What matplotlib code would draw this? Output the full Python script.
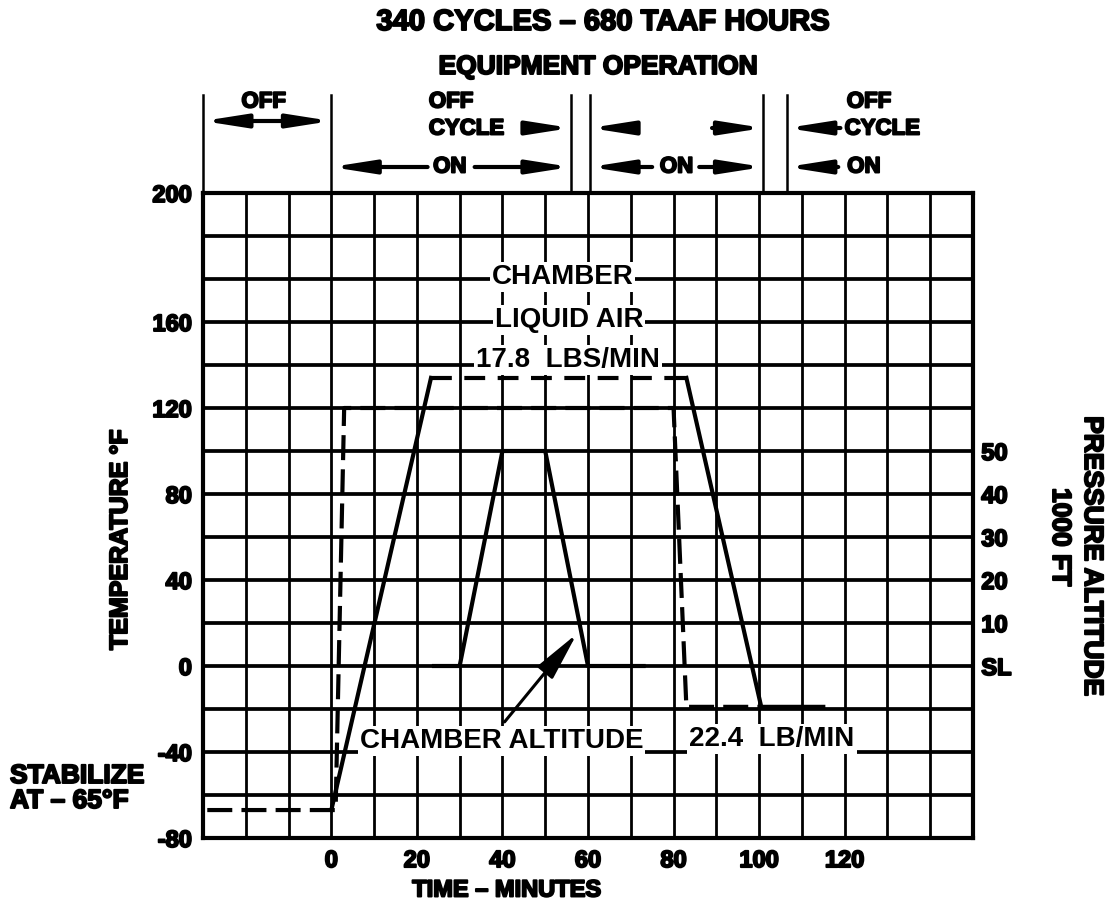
import matplotlib
matplotlib.use("Agg")
import matplotlib.pyplot as plt
from matplotlib import font_manager, patheffects

installed = {f.name for f in font_manager.fontManager.ttflist}
HEAVY_FONT = 'Liberation Sans' if 'Liberation Sans' in installed else 'DejaVu Sans'
PLAIN = HEAVY_FONT

# ---- data -------------------------------------------------------------
# chamber air temperature, deg F, against time in minutes
chamber_time = [-29, 1, 3, 80, 83, 100.5]
chamber_temp = [-67, -67, 120, 120, -19, -19]
# liquid air temperature, deg F
liquid_time = [0, 23.3, 83, 100.5, 115]
liquid_temp = [-67, 134, 134, -19, -19]
# chamber pressure altitude, 1000 ft
alt_time = [24, 30, 40, 50, 60, 73]
alt_kft = [0, 0, 50, 50, 0, 0]

time_ticks = [0, 20, 40, 60, 80, 100, 120]
temp_tick_pos = [-80, -40, 0, 40, 80, 120, 160, 220]
temp_tick_labels = ['-80', '-40', '0', '40', '80', '120', '160', '200']
alt_ticks = [0, 10, 20, 30, 40, 50]
alt_tick_labels = ['SL', '10', '20', '30', '40', '50']

time_grid = list(range(-30, 151, 10))
temp_grid = list(range(-80, 221, 20))

# equipment operation bar positions (minutes)
phase_marks = [-30, 0, 56, 60.5, 101, 106.5]

W, H = 1109, 916
fig = plt.figure(figsize=(W / 100, H / 100), dpi=100)
ax = fig.add_axes([203 / W, 1 - 838 / H, 770 / W, 645 / H])
ax.set_xlim(-30, 150)
ax.set_ylim(-80, 220)

heavy = [patheffects.withStroke(linewidth=1.4, foreground='black')]

# grid
for y in temp_grid:
    ax.axhline(y, color='black', lw=2.7, zorder=1)
for x in time_grid:
    ax.axvline(x, color='black', lw=2.0, zorder=1)
for s in ax.spines.values():
    s.set_linewidth(3.0)
    s.set_zorder(6)

ax.set_xticks(time_ticks)
ax.set_xticklabels([str(t) for t in time_ticks])
ax.set_yticks(temp_tick_pos)
ax.set_yticklabels(temp_tick_labels)
ax.tick_params(length=0, labelsize=17, pad=8)
for lab in ax.get_xticklabels() + ax.get_yticklabels():
    lab.set_fontfamily(HEAVY_FONT)
    lab.set_fontweight('bold')
    lab.set_path_effects(heavy)

# temperature traces
dash = (0, (6, 2.2))
ax.plot(chamber_time, chamber_temp, color='black', lw=3.0, ls=dash, zorder=5)
ax.plot(liquid_time[0:2], liquid_temp[0:2], color='black', lw=3.0, zorder=5)
ax.plot(liquid_time[1:3], liquid_temp[1:3], color='black', lw=3.0, ls=(0, (5, 3)), zorder=5)
ax.plot(liquid_time[2:], liquid_temp[2:], color='black', lw=3.0, zorder=5)

# altitude on the right-hand scale (10,000 ft per grid line)
ax2 = ax.twinx()
ax2.set_ylim(-40, 110)
ax2.set_yticks(alt_ticks)
ax2.set_yticklabels(alt_tick_labels)
ax2.tick_params(length=0, labelsize=17, pad=6)
for s in ax2.spines.values():
    s.set_visible(False)
for lab in ax2.get_yticklabels():
    lab.set_fontfamily(HEAVY_FONT)
    lab.set_fontweight('bold')
    lab.set_path_effects(heavy)
ax2.plot(alt_time, alt_kft, color='black', lw=3.0, zorder=5)

# in-plot labels
box = dict(facecolor='white', edgecolor='none', pad=1.5)
lab_kw = dict(fontfamily=PLAIN, fontweight='bold', fontsize=20, ha='center',
              va='center', bbox=box, zorder=4)
ax.text(54, 181, 'CHAMBER', **lab_kw)
ax.text(55.6, 161, 'LIQUID AIR', **lab_kw)
ax.text(55.3, 142.5, '17.8  LBS/MIN', **lab_kw)
ax.text(103, -34, '22.4  LB/MIN', **lab_kw)
ax.text(39.8, -35, 'CHAMBER ALTITUDE', **lab_kw)
ax.annotate('', xy=(57.4, 15), xytext=(40.5, -26),
            arrowprops=dict(arrowstyle='-|>,head_length=1.5,head_width=0.3',
                            color='black', lw=2.2, mutation_scale=20,
                            shrinkA=0, shrinkB=0), zorder=5)

# equipment operation schedule above the grid
def yf(px):
    return 1 + (193 - px) / 645

trans = ax.get_xaxis_transform()
for m in phase_marks:
    ax.plot([m, m], [yf(95), yf(192)], color='black', lw=1.8,
            transform=trans, clip_on=False)

arrow_style = '-|>,head_length=1.4,head_width=0.22'

def arrow(t0, t1, ypx, style=arrow_style):
    ax.annotate('', xy=(t1, yf(ypx)), xytext=(t0, yf(ypx)),
                xycoords=trans, textcoords=trans,
                arrowprops=dict(arrowstyle=style, color='black', lw=3.0,
                                mutation_scale=18, shrinkA=0, shrinkB=0))

top_kw = dict(fontfamily=HEAVY_FONT, fontweight='bold', fontsize=16,
              va='center', transform=trans, path_effects=heavy)

arrow(-30, 0, 121, style='<|-|>,head_length=1.4,head_width=0.22')
ax.text(-15.8, yf(102), 'OFF', ha='center', **top_kw)

ax.text(22.8, yf(102), 'OFF', ha='left', **top_kw)
ax.text(22.8, yf(129), 'CYCLE', ha='left', **top_kw)
arrow(45.5, 56, 128)

arrow(71.5, 60.5, 128)
arrow(89, 101, 128)

ax.text(120.5, yf(102), 'OFF', ha='left', **top_kw)
ax.text(120, yf(129), 'CYCLE', ha='left', **top_kw)
arrow(119, 106.5, 128)

arrow(22.5, 0, 167)
ax.text(27.7, yf(167), 'ON', ha='center', **top_kw)
arrow(33.5, 56, 167)
arrow(75, 60.5, 167)
ax.text(80.7, yf(167), 'ON', ha='center', **top_kw)
arrow(86, 101, 167)
arrow(118.5, 106.5, 167)
ax.text(124.5, yf(167), 'ON', ha='center', **top_kw)

# titles and axis captions
fig_kw = dict(fontfamily=HEAVY_FONT, fontweight='bold', path_effects=heavy,
              ha='center', va='center')
fig.text(603 / W, 1 - 22 / H, '340 CYCLES \u2013 680 TAAF HOURS', fontsize=21, **fig_kw)
fig.text(598 / W, 1 - 67 / H, 'EQUIPMENT OPERATION', fontsize=19, **fig_kw)
fig.text(507 / W, 1 - 890 / H, 'TIME \u2013 MINUTES', fontsize=17, **fig_kw)
fig.text(120 / W, 1 - 540 / H, 'TEMPERATURE \u00b0F', fontsize=18, rotation=90, **fig_kw)
fig.text(1092 / W, 1 - 556 / H, 'PRESSURE ALTITUDE', fontsize=19, rotation=270, **fig_kw)
fig.text(1060 / W, 1 - 537 / H, '1000 FT', fontsize=19, rotation=270, **fig_kw)
fig.text(10 / W, 1 - 776 / H, 'STABILIZE', fontsize=19, ha='left', va='center',
         fontfamily=HEAVY_FONT, fontweight='bold', path_effects=heavy)
fig.text(10 / W, 1 - 801 / H, 'AT \u2013 65\u00b0F', fontsize=19, ha='left', va='center',
         fontfamily=HEAVY_FONT, fontweight='bold', path_effects=heavy)

fig.savefig('out.png', dpi=100, facecolor='white')
